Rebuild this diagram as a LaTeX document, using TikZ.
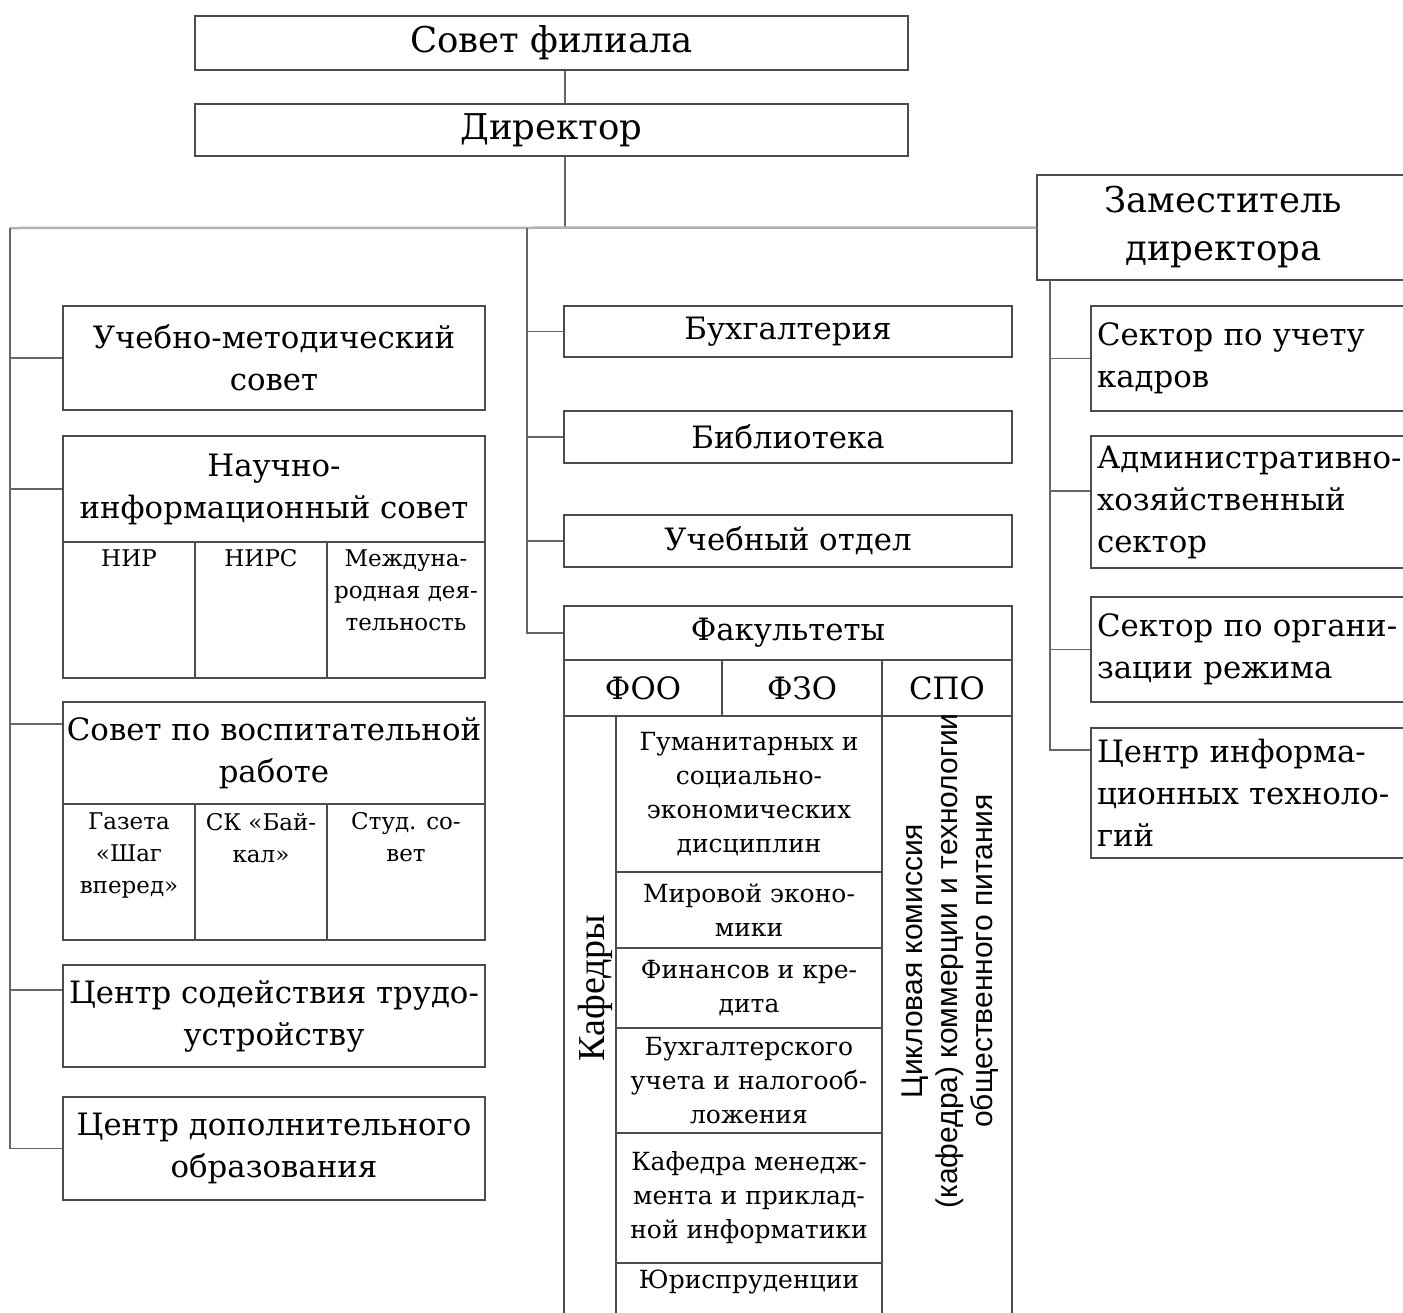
\documentclass[tikz,border=0pt]{standalone}
\usepackage{fontspec}
\setmainfont{DejaVu Serif}
\newfontfamily\arialf{Liberation Sans}
\newfontfamily\timesf{Liberation Serif}
\begin{document}
\begin{tikzpicture}[x=1pt, y=-1pt,
        box/.style={shape=rectangle, draw=black!70, line width=1.3pt, inner sep=3pt, align=center, text=black},
        wh/.style 2 args={minimum width=#1pt, minimum height=#2pt},
        big/.style={font=\fontsize{35.5}{48}\selectfont},
        mid/.style={font=\fontsize{30.8}{42}\selectfont},
        sml/.style={font=\fontsize{23}{32}\selectfont},
        kfd/.style={font=\fontsize{25}{34}\selectfont},
        rbox/.style={box, mid, align=left, text width=307pt, inner sep=6pt},
        link/.style={draw=black!60, line width=1.5pt},
        bus/.style={draw=black!30, line width=2.5pt}]
    \clip (0,0) rectangle (1403,1312);
    \fill[white] (0,0) rectangle (1403,1312);

    % top
    \node[box, big, wh={713}{54}]  (sovet) at (551.5,43)    {Совет филиала};
    \node[box, big, wh={713}{52}]  (dir)   at (551.5,130)   {Директор};
    \node[box, big, wh={373}{105}] (zam)   at (1223.5,227.5) {Заместитель\\директора};

    % left column
    \node[box, mid, wh={422}{104}] (umc) at (274,358)   {Учебно-методический\\совет};
    \node[box, mid, wh={422}{106}] (nis) at (274,489)   {Научно-\\информационный совет};
    \node[box, wh={132}{136}] (nir)  at (129,610) {};
    \node[box, wh={132}{136}] (nirs) at (261,610) {};
    \node[box, wh={158}{136}] (mezh) at (406,610) {};
    \node[sml, anchor=north] (nirT)  at ([yshift=-5pt]nir.north)  {НИР};
    \node[sml, anchor=north] (nirsT) at ([yshift=-5pt]nirs.north) {НИРС};
    \node[sml, anchor=north, align=center] (mezhT) at ([yshift=-5pt]mezh.north) {Междуна-\\родная дея-\\тельность};
    \node[box, mid, wh={422}{102}] (svr) at (274,753)   {Совет по воспитательной\\работе};
    \node[box, wh={132}{136}] (gaz)  at (129,872) {};
    \node[box, wh={132}{136}] (sk)   at (261,872) {};
    \node[box, wh={158}{136}] (stud) at (406,872) {};
    \node[sml, anchor=north, align=center] (gazT)  at ([yshift=-6pt]gaz.north)  {Газета\\«Шаг\\вперед»};
    \node[sml, anchor=north, align=center] (skT)   at ([yshift=-6pt]sk.north)   {СК «Бай-\\кал»};
    \node[sml, anchor=north, align=center] (studT) at ([yshift=-6pt]stud.north) {Студ. со-\\вет};
    \node[box, mid, wh={422}{102}] (cst) at (274,1016)  {Центр содействия трудо-\\устройству};
    \node[box, mid, wh={422}{103}] (cdo) at (274,1148.5) {Центр дополнительного\\образования};

    % middle column
    \node[box, mid, wh={448}{51}] (buh) at (788,331.5) {Бухгалтерия};
    \node[box, mid, wh={448}{52}] (bib) at (788,437)   {Библиотека};
    \node[box, mid, wh={448}{52}] (uo)  at (788,541)   {Учебный отдел};
    \node[box, mid, wh={448}{54}] (fak) at (788,633)   {Факультеты};
    \node[box, mid, wh={158}{56}] (foo) at (643,688) {ФОО};
    \node[box, mid, wh={160}{56}] (fzo) at (802,688) {ФЗО};
    \node[box, mid, wh={130}{56}] (spo) at (947,688) {СПО};
    \node[box, wh={52}{624}]  (kaf)    at (590,1028) {};
    \node[box, wh={130}{624}] (spoCol) at (947,1028) {};
    \node[rotate=90, font=\timesf\fontsize{38}{40}\selectfont] (kafT) at (595,988) {Кафедры};
    \node[rotate=90, align=center, font=\arialf\fontsize{30}{35}\selectfont] (spoT) at (950,961)
        {Цикловая комиссия\\(кафедра) коммерции и технологии\\общественного питания};
    \node[box, kfd, wh={266}{156}] (k1) at (749,794)    {Гуманитарных и\\социально-\\экономических\\дисциплин};
    \node[box, kfd, wh={266}{76}]  (k2) at (749,910)    {Мировой эконо-\\мики};
    \node[box, kfd, wh={266}{80}]  (k3) at (749,988)    {Финансов и кре-\\дита};
    \node[box, kfd, wh={266}{105}] (k4) at (749,1080.5) {Бухгалтерского\\учета и налогооб-\\ложения};
    \node[box, kfd, wh={266}{130}] (k5) at (749,1198)   {Кафедра менедж-\\мента и приклад-\\ной информатики};
    \node[box, wh={266}{77}]  (k6) at (749,1301.5) {};
    \node[kfd, anchor=north] (k6T) at ([yshift=-4pt]k6.north) {Юриспруденции};

    % right column
    \node[rbox, minimum height=105pt] (kad) at (1250.5,358.5) {Сектор по учету\\кадров};
    \node[rbox, minimum height=132pt] (ahs) at (1250.5,502)   {Административно-\\хозяйственный\\сектор};
    \node[rbox, minimum height=105pt] (sor) at (1250.5,649.5) {Сектор по органи-\\зации режима};
    \node[rbox, minimum height=130pt] (cit) at (1250.5,793)   {Центр информа-\\ционных техноло-\\гий};

    % connectors
    \coordinate (axis) at (565,228);
    \coordinate (busL) at (10,228);
    \coordinate (busM) at (527,228);
    \coordinate (busR) at (1050,280);
    \coordinate (svrJ) at ([yshift=29pt]svr.west);
    \coordinate (cstJ) at ([yshift=26pt]cst.west);
    \coordinate (ahsJ) at ([yshift=11pt]ahs.west);
    \coordinate (citJ) at ([yshift=43pt]cit.west);
    \draw[link] (sovet.south -| axis) -- (dir.north -| axis);
    \draw[link] (dir.south -| axis) -- (axis);
    \draw[bus] (busL) -- (zam.west);
    \draw[link] (busL) -- (busL |- cdo.west) -- (cdo.west);
    \draw[link] (busL |- umc.west) -- (umc.west);
    \draw[link] (busL |- nis.west) -- (nis.west);
    \draw[link] (busL |- svrJ) -- (svrJ);
    \draw[link] (busL |- cstJ) -- (cstJ);
    \draw[link] (busM) -- (busM |- fak.west) -- (fak.west);
    \draw[link] (busM |- buh.west) -- (buh.west);
    \draw[link] (busM |- bib.west) -- (bib.west);
    \draw[link] (busM |- uo.west) -- (uo.west);
    \draw[link] (busR) -- (busR |- citJ) -- (citJ);
    \draw[link] (busR |- kad.west) -- (kad.west);
    \draw[link] (busR |- ahsJ) -- (ahsJ);
    \draw[link] (busR |- sor.west) -- (sor.west);
\end{tikzpicture}
\end{document}
